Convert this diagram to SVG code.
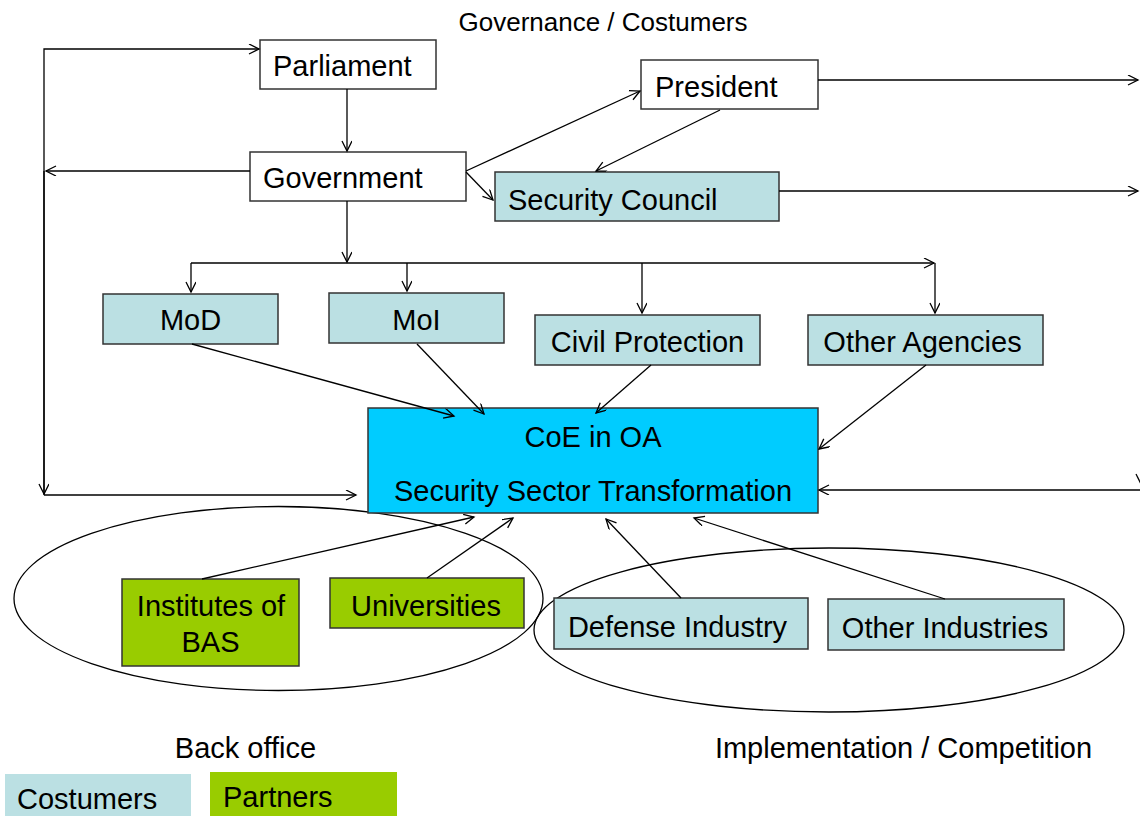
<svg xmlns="http://www.w3.org/2000/svg" width="1140" height="816" viewBox="0 0 1140 816">
<style>
text{font-family:"Liberation Sans",Arial,sans-serif;font-size:29px;fill:#000}
.w{fill:#fff;stroke:#333;stroke-width:1.5}
.c{fill:#BBE0E3;stroke:#333;stroke-width:1.5}
.g{fill:#99CC00;stroke:#333;stroke-width:1.5}
.k{fill:#00CCFF;stroke:#333;stroke-width:1.5}
.m{text-anchor:middle}
#conn path{fill:none;stroke:#000;stroke-width:1.3}
.ell{fill:none;stroke:#000;stroke-width:1.3}
</style>
<defs>
<marker id="a" markerWidth="14" markerHeight="14" refX="11" refY="5" orient="auto" markerUnits="userSpaceOnUse"><path d="M1,0 L11,5 L1,10" fill="none" stroke="#000" stroke-width="1.3"/></marker>
</defs>
<rect width="1140" height="816" fill="#fff"/>
<text x="603" y="31" class="m" style="font-size:26px">Governance / Costumers</text>
<ellipse class="ell" cx="278.5" cy="598.5" rx="264.5" ry="92"/>
<ellipse class="ell" cx="829" cy="630" rx="295" ry="82"/>
<g id="parliament"><rect class="w" x="260" y="40" width="176" height="49"/><text x="273" y="76">Parliament</text></g>
<g id="government"><rect class="w" x="250" y="152" width="216" height="49"/><text x="263" y="188">Government</text></g>
<g id="president"><rect class="w" x="641" y="60" width="177" height="49"/><text x="655" y="97">President</text></g>
<g id="security-council"><rect class="c" x="495" y="172" width="284" height="49"/><text x="508" y="210">Security Council</text></g>
<g id="mod"><rect class="c" x="103" y="294" width="175" height="50"/><text x="190.5" y="330" class="m">MoD</text></g>
<g id="moi"><rect class="c" x="329" y="293" width="175" height="50"/><text x="416.5" y="330" class="m">MoI</text></g>
<g id="civil-protection"><rect class="c" x="535" y="315" width="225" height="50"/><text x="647.5" y="352" class="m">Civil Protection</text></g>
<g id="other-agencies"><rect class="c" x="808" y="315" width="235" height="50"/><text x="922.5" y="352" class="m">Other Agencies</text></g>
<g id="coe"><rect class="k" x="368" y="408" width="450" height="105"/><text x="593" y="447" class="m">CoE in OA</text><text x="593" y="501" class="m">Security Sector Transformation</text></g>
<g id="institutes"><rect class="g" x="122" y="579" width="177" height="87"/><text x="211" y="616" class="m">Institutes of</text><text x="210.5" y="652" class="m">BAS</text></g>
<g id="universities"><rect class="g" x="330" y="578" width="194" height="50"/><text x="426" y="616" class="m">Universities</text></g>
<g id="defense-industry"><rect class="c" x="554" y="598" width="254" height="51"/><text x="677.5" y="637" class="m">Defense Industry</text></g>
<g id="other-industries"><rect class="c" x="828" y="599" width="236" height="51"/><text x="945" y="638" class="m">Other Industries</text></g>
<g id="conn">
<path d="M44,495 V49 H259" marker-end="url(#a)"/>
<path d="M250,171 H46" marker-end="url(#a)"/>
<path d="M44,171 V494" marker-end="url(#a)"/>
<path d="M44,495 H356" marker-end="url(#a)"/>
<path d="M347,89 V151" marker-end="url(#a)"/>
<path d="M347,201 V262" marker-end="url(#a)"/>
<path d="M191,263 H934" marker-end="url(#a)"/>
<path d="M191,263 V292" marker-end="url(#a)"/>
<path d="M407,263 V291" marker-end="url(#a)"/>
<path d="M642,263 V313" marker-end="url(#a)"/>
<path d="M935,263 V313" marker-end="url(#a)"/>
<path d="M192,344 L454,416" marker-end="url(#a)"/>
<path d="M417,344 L484,414" marker-end="url(#a)"/>
<path d="M651,365 L596,413" marker-end="url(#a)"/>
<path d="M926,365 L819,449" marker-end="url(#a)"/>
<path d="M1141,490 H819" marker-end="url(#a)"/>
<path d="M1136,474 L1141,484"/>
<path d="M466,171 L640,91" marker-end="url(#a)"/>
<path d="M466,172 L493,200" marker-end="url(#a)"/>
<path d="M720,110 L596,171" marker-end="url(#a)"/>
<path d="M818,80 H1138" marker-end="url(#a)"/>
<path d="M779,191 H1138" marker-end="url(#a)"/>
<path d="M202,579 L474,517" marker-end="url(#a)"/>
<path d="M427,578 L513,518" marker-end="url(#a)"/>
<path d="M681,598 L606,519" marker-end="url(#a)"/>
<path d="M945,599 L694,518" marker-end="url(#a)"/>
</g>
<text x="245.5" y="758" class="m">Back office</text>
<text x="903.5" y="758" class="m">Implementation / Competition</text>
<g id="legend-costumers"><rect x="5" y="774" width="186" height="42" fill="#BBE0E3"/><text x="17" y="809">Costumers</text></g>
<g id="legend-partners"><rect x="210" y="772" width="187" height="44" fill="#99CC00"/><text x="223" y="807">Partners</text></g>
</svg>
